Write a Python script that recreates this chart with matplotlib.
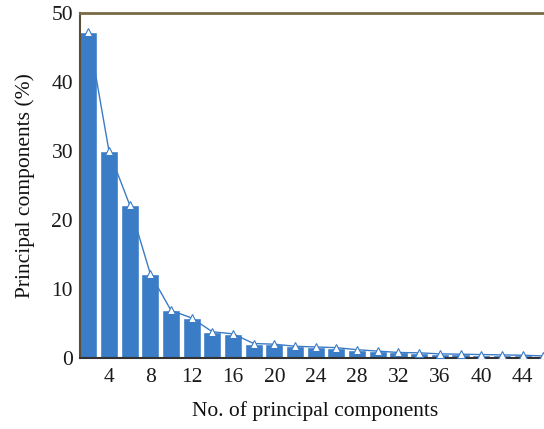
import matplotlib
matplotlib.use("Agg")
import matplotlib.pyplot as plt

components = [2, 4, 6, 8, 10, 12, 14, 16, 18, 20, 22, 24, 26, 28, 30, 32, 34, 36, 38, 40, 42, 44, 46]
variance = [47.2, 30.0, 22.2, 12.2, 6.9, 5.8, 3.8, 3.5, 2.1, 2.0, 1.7, 1.6, 1.5, 1.2,
            1.0, 0.8, 0.75, 0.6, 0.55, 0.5, 0.45, 0.4, 0.3]
xticks = [4, 8, 12, 16, 20, 24, 28, 32, 36, 40, 44]
yticks = [0, 10, 20, 30, 40, 50]

plt.rcParams['font.family'] = ['Liberation Serif', 'DejaVu Serif']

fig = plt.figure(figsize=(5.44, 4.29), dpi=100)
ax = fig.add_axes([80/544, (429-358)/429, 1 - 80/544 + 0.01, (358-13)/429])

blue = '#3b7cc6'
ax.bar(components, variance, width=1.75, color=blue, edgecolor='white', linewidth=1.0, zorder=2)
ax.plot(components, variance, color=blue, linewidth=1.0, marker='^', markersize=6,
        markerfacecolor='white', markeredgecolor=blue, markeredgewidth=0.8, zorder=3)

ax.set_xlim(1.2, 46.6)
ax.set_ylim(0, 50)
ax.set_xticks(xticks)
ax.set_yticks(yticks)
ax.tick_params(length=0, labelsize=15.5, colors='#1a1a1a')
ax.tick_params(axis='x', pad=7)
ax.tick_params(axis='y', pad=5)

ax.set_xlabel('No. of principal components', fontsize=15.5, labelpad=10, color='#111111')
ax.set_ylabel('Principal components (%)', fontsize=15.5, labelpad=12, color='#111111')

ax.spines['top'].set_color('#7a6a45')
ax.spines['top'].set_linewidth(2.0)
ax.spines['left'].set_color('#5a4e38')
ax.spines['left'].set_linewidth(1.5)
ax.spines['bottom'].set_color('#333333')
ax.spines['bottom'].set_linewidth(1.5)
ax.spines['right'].set_visible(False)

fig.savefig('out.png', dpi=100)
